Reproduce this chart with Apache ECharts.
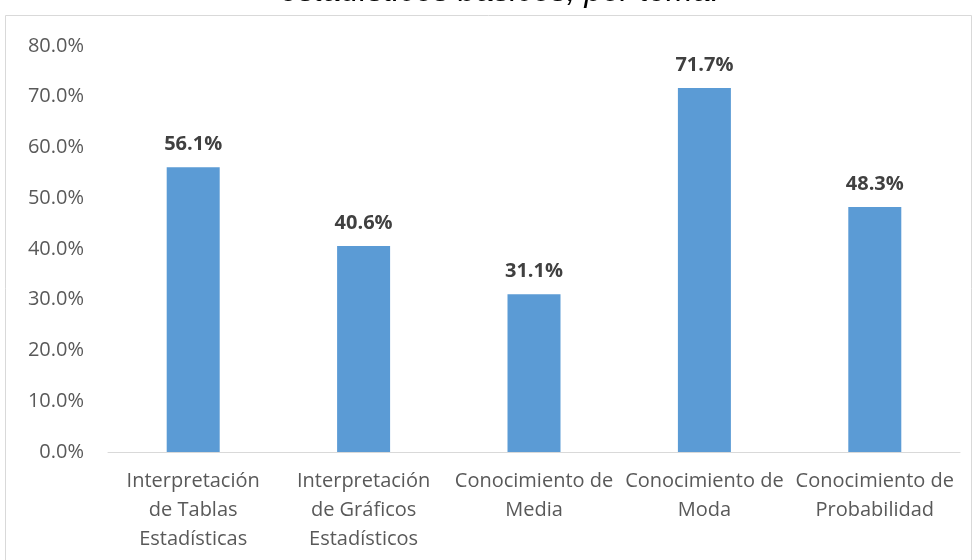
<!DOCTYPE html>
<html>
<head>
<meta charset="utf-8">
<script src="https://cdn.jsdelivr.net/npm/echarts@6/dist/echarts.min.js"></script>
<style>
  html, body { margin: 0; padding: 0; background: #fff; }
  #chart { width: 974px; height: 560px; }
</style>
</head>
<body>
<div id="chart"></div>
<script>
// Temas evaluados y porcentaje de aciertos
const categories = [
  'Interpretación\nde Tablas\nEstadísticas',
  'Interpretación\nde Gráficos\nEstadísticos',
  'Conocimiento de\nMedia',
  'Conocimiento de\nModa',
  'Conocimiento de\nProbabilidad'
];
const values = [56.1, 40.6, 31.1, 71.7, 48.3];
const yTicks = { min: 0, max: 80, interval: 10 };
const titleText = 'estadísticos básicos, por tema.';

const chart = echarts.init(document.getElementById('chart'), null, { renderer: 'canvas' });

const labelFont = '"Open Sans", "Noto Sans", sans-serif';

chart.setOption({
  animation: false,
  backgroundColor: '#ffffff',
  graphic: [
    {
      type: 'rect',
      shape: { x: 5.5, y: 15.5, width: 966, height: 560 },
      style: { fill: 'none', stroke: '#d9d9d9', lineWidth: 1 },
      z: 0
    },
    {
      type: 'text',
      x: 500,
      y: 8,
      style: {
        text: titleText,
        fill: '#000000',
        font: 'italic 32px "Liberation Sans", Arial, sans-serif',
        textAlign: 'center',
        textVerticalAlign: 'bottom'
      },
      z: 10
    }
  ],
  grid: { left: 108, right: 14, top: 46, bottom: 108, containLabel: false },
  xAxis: {
    type: 'category',
    data: categories,
    axisLine: { lineStyle: { color: '#d9d9d9', width: 1 } },
    axisTick: { show: false },
    axisLabel: {
      interval: 0,
      color: '#595959',
      fontSize: 20,
      fontFamily: labelFont,
      lineHeight: 29,
      margin: 15
    }
  },
  yAxis: {
    type: 'value',
    min: yTicks.min,
    max: yTicks.max,
    interval: yTicks.interval,
    axisLine: { show: false },
    axisTick: { show: false },
    splitLine: { show: false },
    axisLabel: {
      color: '#595959',
      fontSize: 20,
      fontFamily: labelFont,
      margin: 24,
      formatter: v => v.toFixed(1) + '%'
    }
  },
  series: [{
    type: 'bar',
    data: values,
    barWidth: 53,
    itemStyle: { color: '#5b9bd5' },
    label: {
      show: true,
      position: 'top',
      distance: 13,
      color: '#404040',
      fontSize: 20,
      fontWeight: 'bold',
      fontFamily: labelFont,
      formatter: p => p.value.toFixed(1) + '%'
    }
  }]
});
</script>
</body>
</html>
